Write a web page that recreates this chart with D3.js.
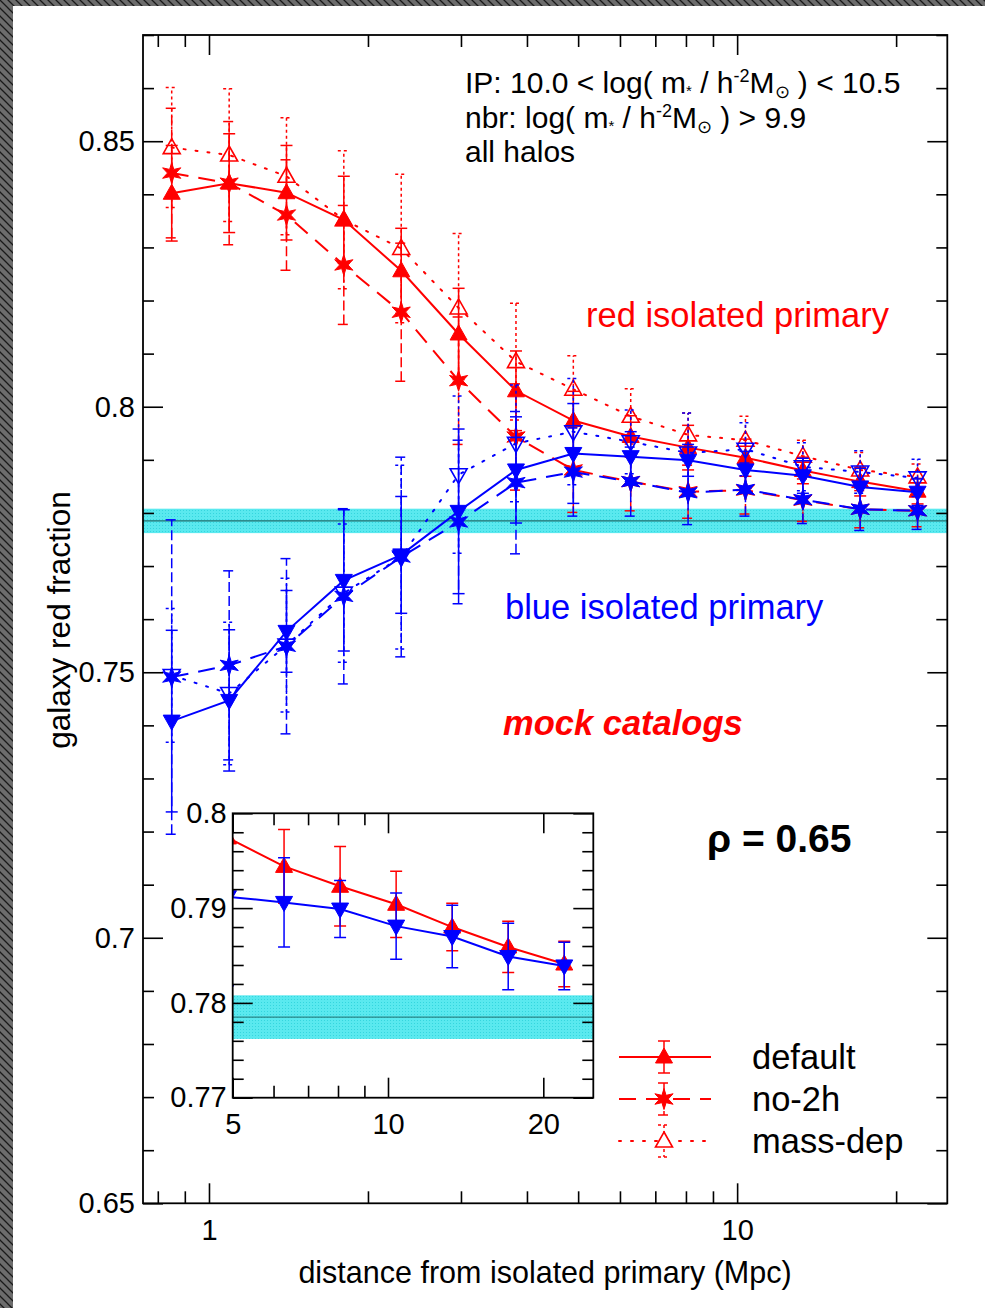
<!DOCTYPE html>
<html><head><meta charset="utf-8">
<script src="https://cdn.jsdelivr.net/npm/d3@7"></script>
<style>
body{margin:0;background:#fff;}
svg{display:block;}
text{font-family:"Liberation Sans",Arial,Helvetica,sans-serif;}
</style>
</head><body>
<svg id="chart" width="985" height="1308"></svg>
<script>
// ---------------- data ----------------
const distance = [0.850, 1.092, 1.402, 1.800, 2.312, 2.969, 3.813, 4.896, 6.288, 8.075, 10.37, 13.32, 17.10, 21.96];

const redDefault    = [0.8402, 0.8421, 0.8403, 0.8352, 0.8256, 0.8137, 0.8030, 0.7974, 0.7944, 0.7923, 0.7904, 0.7880, 0.7859, 0.7841];
const redDefaultErr = [0.0090, 0.0093, 0.0089, 0.0082, 0.0080, 0.0086, 0.0075, 0.0055, 0.0039, 0.0042, 0.0035, 0.0025, 0.0027, 0.0024];
const redNo2h       = [0.8440, 0.8421, 0.8361, 0.8267, 0.8178, 0.8049, 0.7943, 0.7881, 0.7859, 0.7840, 0.7843, 0.7824, 0.7807, 0.7804];
const redNo2hErr    = [0.0122, 0.0116, 0.0104, 0.0112, 0.0130, 0.0120, 0.0100, 0.0080, 0.0055, 0.0050, 0.0045, 0.0040, 0.0035, 0.0030];
const redMassDep    = [0.8488, 0.8474, 0.8434, 0.8352, 0.8298, 0.8186, 0.8085, 0.8033, 0.7982, 0.7947, 0.7937, 0.7907, 0.7881, 0.7868];
const redMassDepErr = [0.0113, 0.0125, 0.0110, 0.0130, 0.0140, 0.0140, 0.0110, 0.0063, 0.0052, 0.0041, 0.0045, 0.0030, 0.0033, 0.0024];

const blueDefault    = [0.7408, 0.7447, 0.7577, 0.7673, 0.7721, 0.7803, 0.7881, 0.7912, 0.7906, 0.7899, 0.7881, 0.7870, 0.7849, 0.7839];
const blueDefaultErr = [0.0171, 0.0133, 0.0077, 0.0133, 0.0110, 0.0155, 0.0100, 0.0094, 0.0047, 0.0030, 0.0035, 0.0033, 0.0035, 0.0025];
const blueNo2h       = [0.7491, 0.7513, 0.7549, 0.7643, 0.7717, 0.7783, 0.7857, 0.7877, 0.7859, 0.7838, 0.7844, 0.7825, 0.7807, 0.7804];
const blueNo2hErr    = [0.0296, 0.0178, 0.0165, 0.0165, 0.0188, 0.0154, 0.0134, 0.0083, 0.0065, 0.0060, 0.0050, 0.0045, 0.0040, 0.0035];
const blueMassDep    = [0.7494, 0.7460, 0.7551, 0.7649, 0.7717, 0.7872, 0.7931, 0.7953, 0.7934, 0.7913, 0.7920, 0.7887, 0.7877, 0.7866];
const blueMassDepErr = [0.0126, 0.0134, 0.0126, 0.0130, 0.0173, 0.0148, 0.0110, 0.0100, 0.0060, 0.0075, 0.0050, 0.0045, 0.0040, 0.0035];

// field red fraction band (all galaxies)
const bandLow = 0.7762, bandMid = 0.7785, bandHigh = 0.7808;

// ticks
const yMajorTicks = [0.65, 0.7, 0.75, 0.8, 0.85];
const yMajorLabels = ["0.65", "0.7", "0.75", "0.8", "0.85"];
const xMajorTicks = [1, 10];
const xMajorLabels = ["1", "10"];
const xMinorTicks = [0.8, 0.9, 2, 3, 4, 5, 6, 7, 8, 9, 20];
const insetXMajorTicks = [5, 10, 20];
const insetXLabels = ["5", "10", "20"];
const insetXMinorTicks = [6, 7, 8, 9];
const insetYMajorTicks = [0.77, 0.78, 0.79, 0.8];
const insetYLabels = ["0.77", "0.78", "0.79", "0.8"];

const seriesLabels = ["default", "no-2h", "mass-dep"];

// ---------------- layout ----------------
const RED = "#ff0000", BLUE = "#0000ff";
const M = {left: 143, right: 947.3, top: 35, bottom: 1203.3};
const I = {left: 232.7, right: 593.3, top: 813.3, bottom: 1097.7};

const svg = d3.select("#chart");
const defs = svg.append("defs");

// hatched screenshot border
const hp = defs.append("pattern").attr("id", "hatch").attr("patternUnits", "userSpaceOnUse")
  .attr("width", 8).attr("height", 8);
hp.append("rect").attr("width", 8).attr("height", 8).attr("fill", "#6c6c6c");
hp.append("path").attr("d", "M-2,-2L10,10M-2,6L2,10M6,-2L10,2").attr("stroke", "#1a1a1a").attr("stroke-width", 1.3);
svg.append("rect").attr("x", 0).attr("y", 0).attr("width", 985).attr("height", 6).attr("fill", "url(#hatch)");
svg.append("rect").attr("x", 0).attr("y", 0).attr("width", 13).attr("height", 1308).attr("fill", "url(#hatch)");

// band pattern (dotted cyan)
const bp = defs.append("pattern").attr("id", "bandpat").attr("patternUnits", "userSpaceOnUse")
  .attr("width", 3).attr("height", 3);
bp.append("rect").attr("width", 3).attr("height", 3).attr("fill", "#5ae9ef");
bp.append("rect").attr("width", 1).attr("height", 1).attr("fill", "#34d6de");

defs.append("clipPath").attr("id", "insetClip").append("rect")
  .attr("x", I.left).attr("y", I.top).attr("width", I.right - I.left).attr("height", I.bottom - I.top);

const x = d3.scaleLog().domain([0.75, 25]).range([M.left, M.right]);
const y = d3.scaleLinear().domain([0.65, 0.87]).range([M.bottom, M.top]);
const ix = d3.scaleLog().domain([5, 25]).range([I.left, I.right]);
const iy = d3.scaleLinear().domain([0.77, 0.80]).range([I.bottom, I.top]);

// ---------------- markers ----------------
function star6(ro, ri) {
  let p = [];
  for (let k = 0; k < 12; k++) {
    const a = -Math.PI / 2 + k * Math.PI / 6;
    const r = k % 2 === 0 ? ro : ri;
    p.push([r * Math.cos(a), r * Math.sin(a)]);
  }
  return "M" + p.map(q => q[0].toFixed(2) + "," + q[1].toFixed(2)).join("L") + "Z";
}
const TRI_UP = "M0,-9L8.5,6L-8.5,6Z";
const TRI_DOWN = "M0,9L8.5,-6L-8.5,-6Z";
const STAR = star6(10.5, 4.2);

const styles = {
  "default":  {line: null,     err: null,   marker: "tri", fill: true},
  "no-2h":    {line: "17,10",  err: "10,4", marker: "star", fill: true},
  "mass-dep": {line: "2,10",   err: "3,3",  marker: "tri", fill: false}
};

function markerPath(style, up) {
  if (style.marker === "star") return STAR;
  return up ? TRI_UP : TRI_DOWN;
}

function drawSeries(g, xs, ys, yv, ev, color, styleName, up) {
  const st = styles[styleName];
  const data = distance.map((d, i) => ({x: d, y: yv[i], e: ev[i]}));
  // error bars
  const eg = g.append("g").attr("stroke", color).attr("stroke-width", 1.5)
    .attr("stroke-dasharray", st.err);
  eg.selectAll(".ebar").data(data).join("line").attr("class", "ebar")
    .attr("x1", d => xs(d.x)).attr("x2", d => xs(d.x))
    .attr("y1", d => ys(d.y - d.e)).attr("y2", d => ys(d.y + d.e));
  eg.selectAll(".ecapT").data(data).join("line").attr("class", "ecapT")
    .attr("x1", d => xs(d.x) - 6).attr("x2", d => xs(d.x) + 6)
    .attr("y1", d => ys(d.y + d.e)).attr("y2", d => ys(d.y + d.e));
  eg.selectAll(".ecapB").data(data).join("line").attr("class", "ecapB")
    .attr("x1", d => xs(d.x) - 6).attr("x2", d => xs(d.x) + 6)
    .attr("y1", d => ys(d.y - d.e)).attr("y2", d => ys(d.y - d.e));
  // connecting line
  g.append("path").datum(data)
    .attr("fill", "none").attr("stroke", color).attr("stroke-width", 2)
    .attr("stroke-dasharray", st.line)
    .attr("stroke-linecap", styleName === "mass-dep" ? "round" : "butt")
    .attr("d", d3.line().x(d => xs(d.x)).y(d => ys(d.y)));
  // markers
  g.selectAll(".mk-" + styleName).data(data).join("path").attr("class", "mk-" + styleName)
    .attr("transform", d => `translate(${xs(d.x)},${ys(d.y)})`)
    .attr("d", markerPath(st, up))
    .attr("fill", st.fill ? color : "none")
    .attr("stroke", color).attr("stroke-width", st.fill ? 1 : 1.6);
}

// ---------------- main plot ----------------
const main = svg.append("g");
main.append("rect").attr("x", M.left).attr("y", y(bandHigh)).attr("width", M.right - M.left)
  .attr("height", y(bandLow) - y(bandHigh)).attr("fill", "url(#bandpat)");
main.append("line").attr("x1", M.left).attr("x2", M.right).attr("y1", y(bandMid)).attr("y2", y(bandMid))
  .attr("stroke", "#1f6e6e").attr("stroke-width", 1.2);

const redG = main.append("g");
drawSeries(redG, x, y, redMassDep, redMassDepErr, RED, "mass-dep", true);
drawSeries(redG, x, y, redNo2h, redNo2hErr, RED, "no-2h", true);
drawSeries(redG, x, y, redDefault, redDefaultErr, RED, "default", true);
const blueG = main.append("g");
drawSeries(blueG, x, y, blueMassDep, blueMassDepErr, BLUE, "mass-dep", false);
drawSeries(blueG, x, y, blueNo2h, blueNo2hErr, BLUE, "no-2h", false);
drawSeries(blueG, x, y, blueDefault, blueDefaultErr, BLUE, "default", false);

function styleAxis(sel, fs) {
  sel.select(".domain").remove();
  sel.attr("font-family", '"Liberation Sans",Arial,Helvetica,sans-serif').attr("font-size", fs);
  sel.selectAll(".tick line").attr("stroke", "#000").attr("stroke-width", 1.6);
  sel.selectAll(".tick text").attr("fill", "#000");
}

function frameAxes(g, xs, ys, box, cfg) {
  // bottom
  g.append("g").attr("transform", `translate(0,${box.bottom})`)
    .call(d3.axisBottom(xs).tickValues(cfg.xMajor).tickSize(-20).tickPadding(cfg.xPad)
      .tickFormat((d, i) => cfg.xLabels[i])).call(s => styleAxis(s, cfg.fs));
  g.append("g").attr("transform", `translate(0,${box.bottom})`)
    .call(d3.axisBottom(xs).tickValues(cfg.xMinor).tickSize(-12).tickFormat(""))
    .call(s => styleAxis(s, cfg.fs));
  // top
  g.append("g").attr("transform", `translate(0,${box.top})`)
    .call(d3.axisTop(xs).tickValues(cfg.xMajor).tickSize(-20).tickFormat(""))
    .call(s => styleAxis(s, cfg.fs));
  g.append("g").attr("transform", `translate(0,${box.top})`)
    .call(d3.axisTop(xs).tickValues(cfg.xMinor).tickSize(-12).tickFormat(""))
    .call(s => styleAxis(s, cfg.fs));
  // left
  g.append("g").attr("transform", `translate(${box.left},0)`)
    .call(d3.axisLeft(ys).tickValues(cfg.yMajor).tickSize(-20).tickPadding(cfg.yPad)
      .tickFormat((d, i) => cfg.yLabels[i])).call(s => styleAxis(s, cfg.fs));
  g.append("g").attr("transform", `translate(${box.left},0)`)
    .call(d3.axisLeft(ys).tickValues(cfg.yMinor).tickSize(-11).tickFormat(""))
    .call(s => styleAxis(s, cfg.fs));
  // right
  g.append("g").attr("transform", `translate(${box.right},0)`)
    .call(d3.axisRight(ys).tickValues(cfg.yMajor).tickSize(-20).tickFormat(""))
    .call(s => styleAxis(s, cfg.fs));
  g.append("g").attr("transform", `translate(${box.right},0)`)
    .call(d3.axisRight(ys).tickValues(cfg.yMinor).tickSize(-11).tickFormat(""))
    .call(s => styleAxis(s, cfg.fs));
  g.append("rect").attr("x", box.left).attr("y", box.top)
    .attr("width", box.right - box.left).attr("height", box.bottom - box.top)
    .attr("fill", "none").attr("stroke", "#000").attr("stroke-width", 1.8);
}

const mainYMinor = d3.range(66, 88).map(v => v / 100).filter(v => !yMajorTicks.some(t => Math.abs(t - v) < 1e-9));
frameAxes(svg.append("g"), x, y, M, {
  xMajor: xMajorTicks, xLabels: xMajorLabels, xMinor: xMinorTicks, xPad: 16,
  yMajor: yMajorTicks, yLabels: yMajorLabels, yMinor: mainYMinor, yPad: 8, fs: 29
});

// ---------------- inset ----------------
const inset = svg.append("g");
inset.append("rect").attr("x", I.left).attr("y", I.top).attr("width", I.right - I.left)
  .attr("height", I.bottom - I.top).attr("fill", "#fff");
const insetPlot = inset.append("g").attr("clip-path", "url(#insetClip)");
insetPlot.append("rect").attr("x", I.left).attr("y", iy(bandHigh)).attr("width", I.right - I.left)
  .attr("height", iy(bandLow) - iy(bandHigh)).attr("fill", "url(#bandpat)");
insetPlot.append("line").attr("x1", I.left).attr("x2", I.right).attr("y1", iy(bandMid)).attr("y2", iy(bandMid))
  .attr("stroke", "#1f6e6e").attr("stroke-width", 1);
drawSeries(insetPlot.append("g"), ix, iy, redDefault, redDefaultErr, RED, "default", true);
drawSeries(insetPlot.append("g"), ix, iy, blueDefault, blueDefaultErr, BLUE, "default", false);
const insetYMinor = d3.range(770, 801, 2).map(v => v / 1000).filter(v => !insetYMajorTicks.some(t => Math.abs(t - v) < 1e-9));
frameAxes(inset.append("g"), ix, iy, I, {
  xMajor: insetXMajorTicks, xLabels: insetXLabels, xMinor: insetXMinorTicks, xPad: 16,
  yMajor: insetYMajorTicks, yLabels: insetYLabels, yMinor: insetYMinor, yPad: 6, fs: 29
});

// ---------------- annotations ----------------
const ann = svg.append("g").attr("font-size", 30).attr("fill", "#000");
function massText(sel, prefix, suffix) {
  sel.append("tspan").text(prefix);
  sel.append("tspan").attr("dy", 3).attr("font-size", 15).text("*");
  sel.append("tspan").attr("dy", -3).text(" / h");
  sel.append("tspan").attr("dy", -11).attr("font-size", 18).text("-2");
  sel.append("tspan").attr("dy", 11).text("M");
  sel.append("tspan").attr("dy", 5).attr("font-size", 18).text("⊙");
  sel.append("tspan").attr("dy", -5).text(suffix);
}
massText(ann.append("text").attr("x", 465).attr("y", 93), "IP: 10.0 < log( m", " ) < 10.5");
massText(ann.append("text").attr("x", 465).attr("y", 128), "nbr: log( m", " ) > 9.9");
ann.append("text").attr("x", 465).attr("y", 162).text("all halos");

svg.append("text").attr("x", 586).attr("y", 327).attr("font-size", 34.5).attr("fill", RED).text("red isolated primary");
svg.append("text").attr("x", 505).attr("y", 619).attr("font-size", 34.5).attr("fill", BLUE).text("blue isolated primary");
svg.append("text").attr("x", 503).attr("y", 735).attr("font-size", 34.5).attr("font-weight", "bold")
  .attr("font-style", "italic").attr("fill", RED).text("mock catalogs");
svg.append("text").attr("x", 707).attr("y", 852).attr("font-size", 39).attr("font-weight", "bold")
  .attr("fill", "#000").text("ρ = 0.65");

svg.append("text").attr("transform", "translate(70,620) rotate(-90)").attr("text-anchor", "middle")
  .attr("font-size", 31.5).attr("fill", "#000").text("galaxy red fraction");
svg.append("text").attr("x", 545).attr("y", 1283).attr("text-anchor", "middle")
  .attr("font-size", 30.5).attr("fill", "#000").text("distance from isolated primary (Mpc)");

// ---------------- legend ----------------
const lg = svg.append("g");
const legendRowsY = [1057, 1099, 1141];
seriesLabels.forEach((name, i) => {
  const st = styles[name];
  const yy = legendRowsY[i];
  const row = lg.append("g");
  row.append("line").attr("x1", 619).attr("x2", 711).attr("y1", yy).attr("y2", yy)
    .attr("stroke", RED).attr("stroke-width", 2).attr("stroke-dasharray", st.line)
    .attr("stroke-linecap", name === "mass-dep" ? "round" : "butt");
  const eg = row.append("g").attr("stroke", RED).attr("stroke-width", 1.5).attr("stroke-dasharray", st.err);
  eg.append("line").attr("x1", 664).attr("x2", 664).attr("y1", yy - 16).attr("y2", yy + 16);
  eg.append("line").attr("x1", 658).attr("x2", 670).attr("y1", yy - 16).attr("y2", yy - 16);
  eg.append("line").attr("x1", 658).attr("x2", 670).attr("y1", yy + 16).attr("y2", yy + 16);
  row.append("path").attr("transform", `translate(664,${yy})`).attr("d", markerPath(st, true))
    .attr("fill", st.fill ? RED : "#fff").attr("stroke", RED).attr("stroke-width", st.fill ? 1 : 1.6);
  row.append("text").attr("x", 752).attr("y", yy + 12).attr("font-size", 34.5).attr("fill", "#000").text(name);
});
</script>
</body></html>
